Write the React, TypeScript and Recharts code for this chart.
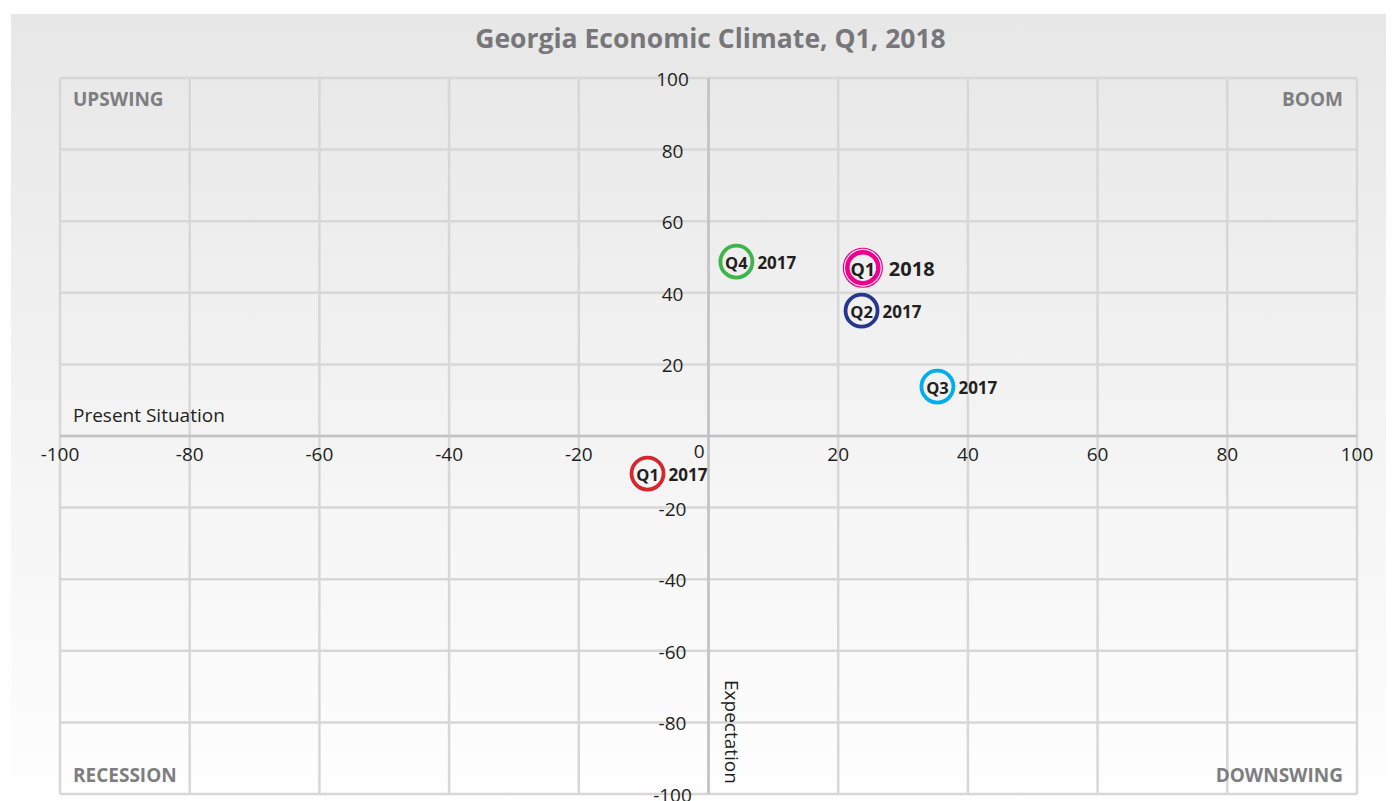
import React from "react";
import {
  CartesianGrid,
  ReferenceLine,
  Scatter,
  ScatterChart,
  XAxis,
  YAxis,
} from "recharts";

const QUARTERS = ["Q4", "Q1", "Q2", "Q3", "Q1"];
const YEARS = ["2017", "2018", "2017", "2017", "2017"];
const EXPECTATION = [4.3, 23.8, 23.6, 35.3, -9.4];
const PRESENT = [48.7, 47.0, 35.0, 13.8, -10.5];
const TICKS = [-100, -80, -60, -40, -20, 0, 20, 40, 60, 80, 100];
const QUADRANTS = ["UPSWING", "BOOM", "RECESSION", "DOWNSWING"];

const COLORS = ["#3db54a", "#ec008c", "#25368f", "#00aeef", "#d7262e"];

const W = 1383;
const H = 787;
const M = { top: 64, right: 37, bottom: 6, left: 48 };
const ZERO_X = 49 + (W - 49 - 37) / 2;
const ZERO_Y = 64 + (H - 64 - 7) / 2;
const FONT = "'Open Sans', sans-serif";

const points = QUARTERS.map((q, i) => ({
  q,
  year: YEARS[i],
  x: EXPECTATION[i],
  y: PRESENT[i],
  color: COLORS[i],
  highlight: YEARS[i] === "2018",
}));

function XTick({ x, payload }: any) {
  const v = payload.value;
  if (v === 0) {
    return (
      <text x={x - 4} y={ZERO_Y + 15} textAnchor="end" dominantBaseline="central" fontSize={19} fill="#231f20" fontFamily={FONT}>
        0
      </text>
    );
  }
  return (
    <text x={x} y={ZERO_Y + 18} textAnchor="middle" dominantBaseline="central" fontSize={19} fill="#231f20" fontFamily={FONT}>
      {v}
    </text>
  );
}

function YTick({ y, payload }: any) {
  const v = payload.value;
  if (v === 0) return null;
  return (
    <text x={ZERO_X - 36} y={y + 1} textAnchor="middle" dominantBaseline="central" fontSize={19} fill="#231f20" fontFamily={FONT}>
      {v}
    </text>
  );
}

function Marker({ cx, cy, payload }: any) {
  const big = payload.highlight;
  return (
    <g>
      {big && <circle cx={cx} cy={cy} r={19.5} fill="none" stroke={payload.color} strokeWidth={1.2} />}
      <circle cx={cx} cy={cy} r={big ? 15.5 : 16} fill="none" stroke={payload.color} strokeWidth={big ? 4.5 : 3.8} />
      <text x={cx} y={cy + 1} textAnchor="middle" dominantBaseline="central" fontSize={big ? 18 : 16.5} fontWeight={700} fill="#231f20" fontFamily={FONT}>
        {payload.q}
      </text>
      <text x={cx + (big ? 26 : 21)} y={cy + 1} dominantBaseline="central" fontSize={big ? 20 : 17} fontWeight={700} fill="#231f20" fontFamily={FONT}>
        {payload.year}
      </text>
    </g>
  );
}

function ExpectationLabel({ viewBox }: any) {
  const x = viewBox.x + 16;
  const y = viewBox.y + viewBox.height - 114;
  return (
    <text x={x} y={y} transform={`rotate(90 ${x} ${y})`} fontSize={19} fill="#231f20" fontFamily={FONT}>
      Expectation
    </text>
  );
}

function PresentLabel({ viewBox }: any) {
  return (
    <text x={viewBox.x + 13} y={viewBox.y - 14} fontSize={19} fill="#231f20" fontFamily={FONT}>
      Present Situation
    </text>
  );
}

const quadStyle: React.CSSProperties = {
  position: "absolute",
  fontFamily: FONT,
  fontWeight: 700,
  fontSize: 19,
  color: "#7e7e80",
  lineHeight: 1,
};

export default function App() {
  return (
    <div
      style={{
        position: "relative",
        marginLeft: 3,
        marginTop: 6,
        width: W,
        height: H,
        background: "linear-gradient(to bottom, #e7e7e7 0%, #f3f3f3 50%, #fefefe 100%)",
      }}
    >
      <div
        style={{
          position: "absolute",
          top: 6,
          left: 0,
          width: W,
          textAlign: "center",
          fontFamily: FONT,
          fontWeight: 700,
          fontSize: 26.5,
          color: "#77777a",
          paddingLeft: 16,
          boxSizing: "border-box",
        }}
      >
        Georgia Economic Climate, Q1, 2018
      </div>
      <ScatterChart width={W} height={H} margin={M}>
        <CartesianGrid stroke="#d7d7d7" strokeWidth={2.5} />
        <XAxis
          type="number"
          dataKey="x"
          domain={[-100, 100]}
          ticks={TICKS}
          height={1}
          axisLine={false}
          tickLine={false}
          tick={<XTick />}
          interval={0}
          allowDataOverflow
        />
        <YAxis
          type="number"
          dataKey="y"
          domain={[-100, 100]}
          ticks={TICKS}
          width={1}
          axisLine={false}
          tickLine={false}
          tick={<YTick />}
          interval={0}
          allowDataOverflow
        />
        <ReferenceLine y={0} stroke="#c2c2c4" strokeWidth={2.5} label={<PresentLabel />} />
        <ReferenceLine x={0} stroke="#c2c2c4" strokeWidth={2.5} label={<ExpectationLabel />} />
        <Scatter data={points} shape={<Marker />} isAnimationActive={false} />
      </ScatterChart>
      <div style={{ ...quadStyle, left: 62, top: 76 }}>{QUADRANTS[0]}</div>
      <div style={{ ...quadStyle, right: 51, top: 76 }}>{QUADRANTS[1]}</div>
      <div style={{ ...quadStyle, left: 62, top: 752 }}>{QUADRANTS[2]}</div>
      <div style={{ ...quadStyle, right: 51, top: 752 }}>{QUADRANTS[3]}</div>
    </div>
  );
}
